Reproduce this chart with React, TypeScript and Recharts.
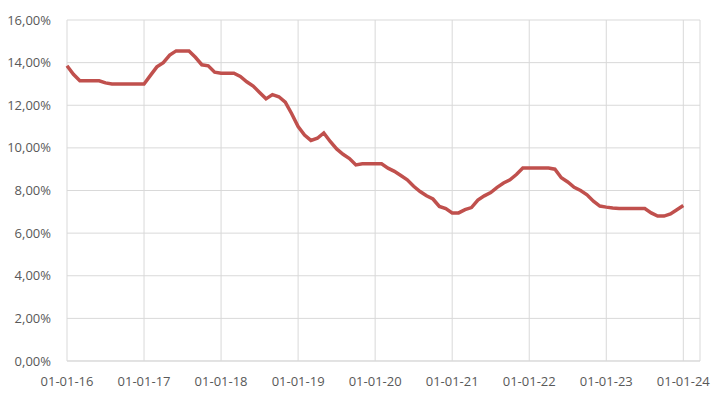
import React from "react";
import { LineChart, Line, XAxis, YAxis, CartesianGrid } from "recharts";

// monthly rate, Jan 2016 .. Jan 2024 (in %)
const rates2016 = [13.85, 13.45, 13.15, 13.15, 13.15, 13.15, 13.05, 13.0, 13.0, 13.0, 13.0, 13.0];
const rates2017 = [13.0, 13.4, 13.8, 14.0, 14.35, 14.55, 14.55, 14.55, 14.25, 13.9, 13.85, 13.55];
const rates2018 = [13.5, 13.5, 13.5, 13.35, 13.1, 12.9, 12.6, 12.3, 12.5, 12.4, 12.15, 11.6];
const rates2019 = [11.0, 10.6, 10.35, 10.45, 10.7, 10.3, 9.95, 9.7, 9.5, 9.2, 9.25, 9.25];
const rates2020 = [9.25, 9.25, 9.05, 8.9, 8.7, 8.5, 8.2, 7.95, 7.75, 7.6, 7.25, 7.15];
const rates2021 = [6.95, 6.95, 7.1, 7.2, 7.55, 7.75, 7.9, 8.15, 8.35, 8.5, 8.75, 9.05];
const rates2022 = [9.05, 9.05, 9.05, 9.05, 9.0, 8.6, 8.4, 8.15, 8.0, 7.8, 7.5, 7.27];
const rates2023 = [7.22, 7.18, 7.15, 7.15, 7.15, 7.15, 7.15, 6.95, 6.8, 6.8, 6.9, 7.1];
const rates2024 = [7.3];

const dateLabels = [
    "01-01-16",
    "01-01-17",
    "01-01-18",
    "01-01-19",
    "01-01-20",
    "01-01-21",
    "01-01-22",
    "01-01-23",
    "01-01-24",
];
const yTicks = [0, 2, 4, 6, 8, 10, 12, 14, 16];

const allRates = [
    ...rates2016,
    ...rates2017,
    ...rates2018,
    ...rates2019,
    ...rates2020,
    ...rates2021,
    ...rates2022,
    ...rates2023,
    ...rates2024,
];

const data = allRates.map((v, i) => ({ m: i, value: v }));
const xTicks = dateLabels.map((_, i) => i * 12);

const fmtPct = (v: number) => v.toFixed(2).replace(".", ",") + "%";

const App: React.FC = () => {
    const tickStyle = { fill: "#595959", fontSize: 13, fontFamily: "Open Sans, Liberation Sans, sans-serif" };
    return (
        <div style={{ position: "absolute", left: 0, top: 0, background: "#fff" }}>
            <LineChart width={718} height={397} data={data} margin={{ top: 20, right: 18, left: 0, bottom: 0 }}>
                <CartesianGrid stroke="#d9d9d9" verticalPoints={undefined} />
                <XAxis
                    dataKey="m"
                    type="number"
                    domain={[0, 98.6]}
                    ticks={xTicks}
                    tickFormatter={(v: number) => dateLabels[v / 12]}
                    tickLine={false}
                    axisLine={{ stroke: "#d9d9d9" }}
                    tick={tickStyle}
                    tickMargin={10}
                    height={36}
                    interval={0}
                />
                <YAxis
                    domain={[0, 16]}
                    ticks={yTicks}
                    tickFormatter={fmtPct}
                    tickLine={false}
                    axisLine={false}
                    tick={tickStyle}
                    width={67}
                    tickMargin={10}
                    interval={0}
                />
                <Line
                    type="linear"
                    dataKey="value"
                    stroke="#C0504D"
                    strokeWidth={3.5}
                    dot={false}
                    isAnimationActive={false}
                />
            </LineChart>
        </div>
    );
};

export default App;
